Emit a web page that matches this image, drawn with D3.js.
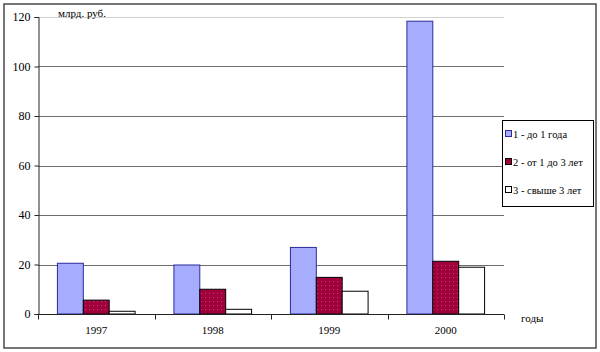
<!DOCTYPE html>
<html>
<head>
<meta charset="utf-8">
<script src="https://cdn.jsdelivr.net/npm/d3@7"></script>
<style>
  html, body { margin: 0; padding: 0; background: #fff; }
  svg text { font-family: "Liberation Serif", "DejaVu Serif", serif; }
</style>
</head>
<body>
<div id="chart"></div>
<script>
const years = ["1997", "1998", "1999", "2000"];
const seriesNames = ["1 - до 1 года", "2 - от 1 до 3 лет", "3 - свыше 3 лет"];
const upTo1 = [20.5, 19.8, 26.9, 118.3];
const from1to3 = [5.6, 10.0, 14.8, 21.3];
const over3 = [1.1, 1.9, 9.2, 18.9];
const yTicks = [0, 20, 40, 60, 80, 100, 120];

const series = [upTo1, from1to3, over3];
const fills = ["#a6adff", "url(#dots)", "#ffffff"];
const strokes = ["#2b2b9c", "#000", "#000"];
const swatchFills = ["#a6adff", "#a0003c", "#ffffff"];

const W = 600, H = 352;
const plotL = 38, plotR = 504, plotT = 17, plotB = 314;
const serif = "Liberation Serif";

const svg = d3.select("#chart").append("svg").attr("width", W).attr("height", H);

const defs = svg.append("defs");
const pat = defs.append("pattern").attr("id", "dots")
  .attr("width", 4).attr("height", 4).attr("patternUnits", "userSpaceOnUse");
pat.append("rect").attr("width", 4).attr("height", 4).attr("fill", "#a0003c");
pat.append("rect").attr("x", 1).attr("y", 1).attr("width", 1).attr("height", 1).attr("fill", "#c0406a");

// outer frame
svg.append("rect").attr("x", 4).attr("y", 4).attr("width", 592).attr("height", 344)
  .attr("fill", "none").attr("stroke", "#4a4a4a").attr("stroke-width", 1.5);

const x = d3.scaleBand().domain(years).range([plotL, plotR]);
const inner = d3.scaleBand().domain(d3.range(3)).range([0, x.bandwidth()]).paddingOuter(0.75).paddingInner(0);
const y = d3.scaleLinear().domain([0, 120]).range([plotB, plotT]);

// gridlines
svg.append("g").selectAll("line").data(yTicks.filter(t => t > 0)).join("line")
  .attr("x1", plotL).attr("x2", plotR)
  .attr("y1", d => Math.round(y(d)) + 0.5).attr("y2", d => Math.round(y(d)) + 0.5)
  .attr("stroke", d => d === 120 ? "#d0d0d0" : "#6e6e6e").attr("stroke-width", 1);

// bars
years.forEach((yr, i) => {
  series.forEach((s, k) => {
    svg.append("rect")
      .attr("x", x(yr) + inner(k))
      .attr("y", y(s[i]))
      .attr("width", inner.bandwidth())
      .attr("height", y(0) - y(s[i]))
      .attr("fill", fills[k])
      .attr("stroke", strokes[k])
      .attr("stroke-width", 1);
  });
});

// y axis
const yAxis = svg.append("g").attr("transform", `translate(${plotL + 0.5},0)`)
  .call(d3.axisLeft(y).tickValues(yTicks).tickSize(4).tickPadding(4));
yAxis.attr("font-family", serif);
yAxis.select(".domain").attr("stroke", "#222");
yAxis.selectAll(".tick line").attr("stroke", "#222");
yAxis.selectAll("text").attr("font-size", 12).attr("fill", "#000");

// x axis
const xg = svg.append("g").attr("transform", `translate(0,${plotB + 0.5})`).attr("font-family", serif);
xg.append("line").attr("x1", plotL).attr("x2", plotR).attr("stroke", "#222");
xg.selectAll("line.tk").data(d3.range(years.length + 1)).join("line").attr("class", "tk")
  .attr("x1", d => Math.round(plotL + d * x.step()) + 0.5)
  .attr("x2", d => Math.round(plotL + d * x.step()) + 0.5)
  .attr("y1", 0).attr("y2", 5).attr("stroke", "#222");
xg.selectAll("text").data(years).join("text")
  .attr("x", d => x(d) + x.bandwidth() / 2).attr("y", 19)
  .attr("text-anchor", "middle").attr("font-size", 11).text(d => d);

// axis titles
svg.append("text").attr("x", 58).attr("y", 17).attr("font-size", 11).attr("font-family", serif).text("млрд. руб.");
svg.append("text").attr("x", 521).attr("y", 322).attr("font-size", 11).attr("font-family", serif).text("годы");

// legend
const lg = svg.append("g").attr("font-family", serif);
lg.append("rect").attr("x", 502.5).attr("y", 120.5).attr("width", 91).attr("height", 86)
  .attr("fill", "#fff").attr("stroke", "#000");
seriesNames.forEach((name, k) => {
  const cy = 134 + k * 28;
  lg.append("rect").attr("x", 505.5).attr("y", cy - 3.5).attr("width", 6).attr("height", 6)
    .attr("fill", swatchFills[k]).attr("stroke", k === 0 ? "#2b2b9c" : "#000");
  lg.append("text").attr("x", 513).attr("y", cy + 3.5).attr("font-size", 10.5).text(name);
});
</script>
</body>
</html>
